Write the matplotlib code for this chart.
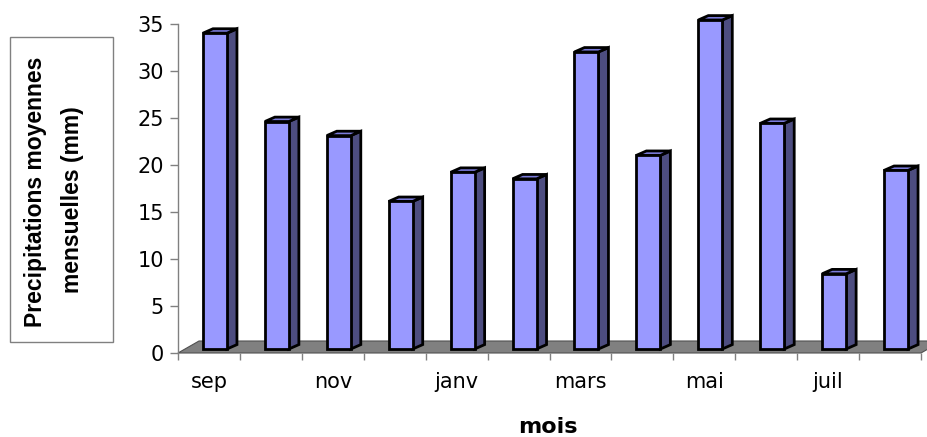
import matplotlib
matplotlib.use("Agg")
import matplotlib.pyplot as plt
from matplotlib.patches import Polygon, Rectangle

# Monthly mean precipitation (mm), September to August
months = ["sep", "oct", "nov", "dec", "janv", "fev", "mars", "avr", "mai", "juin", "juil", "aout"]
precip = [33.6, 24.2, 22.7, 15.7, 18.8, 18.1, 31.6, 20.6, 35.0, 24.0, 8.0, 19.0]
yticks = [0, 5, 10, 15, 20, 25, 30, 35]
shown_labels = ["sep", "", "nov", "", "janv", "", "mars", "", "mai", "", "juil", ""]

W, H = 928, 437
fig = plt.figure(figsize=(W / 100, H / 100), dpi=100)
fig.patch.set_facecolor("white")

# axes box in pixel terms
x0, x1, y0, y1 = 178, 921, 353, 24
ax = fig.add_axes([x0 / W, (H - y0) / H, (x1 - x0) / W, (y0 - y1) / H])
n = len(months)
ax.set_xlim(0, n)
ax.set_ylim(0, 35)

pxx = (x1 - x0) / n        # pixels per category
pxy = (y0 - y1) / 35.0     # pixels per mm

# pseudo-3D geometry (converted from pixels to data units)
floor_dx, floor_dy = 21 / pxx, 12 / pxy
shift_x, lift = 6 / pxx, 4 / pxy
bar_w = 24 / pxx
depth_dx, depth_dy = 10 / pxx, 4.4 / pxy

front_c = "#9999FF"
side_c = "#4D4D80"
top_c = "#7B7BDB"

# floor
floor = Polygon([(0, 0), (n, 0), (n + floor_dx, floor_dy), (floor_dx, floor_dy)],
                closed=True, facecolor="#808080", edgecolor="#505050",
                linewidth=0.8, clip_on=False, zorder=1)
ax.add_patch(floor)

centers = [i + 0.5 + shift_x for i in range(n)]
bars = ax.bar(centers, precip, width=bar_w, bottom=lift, color=front_c,
              edgecolor="black", linewidth=2.0, zorder=3, clip_on=False)

for rect, v in zip(bars, precip):
    L = rect.get_x()
    R = L + rect.get_width()
    b = rect.get_y()
    t = b + rect.get_height()
    side = Polygon([(R, b), (R + depth_dx, b + depth_dy), (R + depth_dx, t + depth_dy), (R, t)],
                   closed=True, facecolor=side_c, edgecolor="black", linewidth=2.0,
                   joinstyle="miter", zorder=2.5, clip_on=False)
    top = Polygon([(L, t), (R, t), (R + depth_dx, t + depth_dy), (L + depth_dx, t + depth_dy)],
                  closed=True, facecolor=top_c, edgecolor="black", linewidth=2.0,
                  joinstyle="miter", zorder=2.5, clip_on=False)
    ax.add_patch(side)
    ax.add_patch(top)

# axes styling
for s in ["top", "right", "bottom"]:
    ax.spines[s].set_visible(False)
ax.spines["left"].set_color("#808080")
ax.spines["left"].set_linewidth(1.0)
ax.set_facecolor("none")

font = "DejaVu Sans"
ax.set_yticks(yticks)
ax.set_yticklabels([str(v) for v in yticks], fontsize=15, family=font)
ax.tick_params(axis="y", length=6, width=1, color="#808080", pad=4)

ax.set_xticks(range(n + 1))
ax.set_xticklabels([""] * (n + 1))
ax.tick_params(axis="x", which="major", length=5, width=1, color="#808080", direction="out")
ax.set_xticks([i + 0.5 for i in range(n)], minor=True)
ax.set_xticklabels(shown_labels, minor=True, fontsize=15, family=font)
ax.tick_params(axis="x", which="minor", length=0, pad=14)

# axis titles
fig.text(548 / W, 1 - 427 / H, "mois", ha="center", va="center",
         fontsize=16, fontweight="bold", family=font)

box = Rectangle((10 / W, 1 - 342 / H), (113 - 10) / W, (342 - 37) / H,
                transform=fig.transFigure, facecolor="white", edgecolor="#808080",
                linewidth=1.0)
fig.patches.append(box)
fig.text(36 / W, 1 - 192 / H, "Precipitations moyennes", rotation=90,
         ha="center", va="center", fontsize=16.5, fontweight="bold",
         family="Liberation Sans")
fig.text(73 / W, 1 - 200 / H, "mensuelles (mm)", rotation=90,
         ha="center", va="center", fontsize=16.5, fontweight="bold",
         family="Liberation Sans")

fig.savefig("out.png", dpi=100)
